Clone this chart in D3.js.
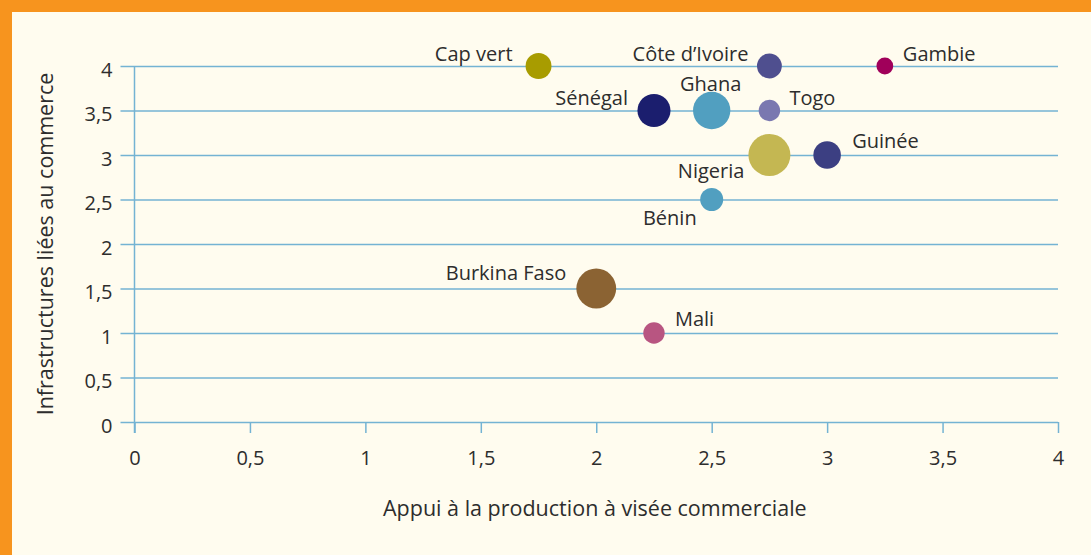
<!DOCTYPE html>
<html>
<head>
<meta charset="utf-8">
<script src="https://cdn.jsdelivr.net/npm/d3@7"></script>
<style>
  html, body { margin: 0; padding: 0; background: #f7941e; }
  svg { display: block; }
  text { font-family: "Open Sans", "Noto Sans", sans-serif; fill: #2d2d2d; }
</style>
</head>
<body>
<script>
// data
const countries = ["Cap vert", "Côte d’Ivoire", "Gambie", "Sénégal", "Ghana", "Togo",
  "Guinée", "Nigeria", "Bénin", "Burkina Faso", "Mali"];
const appui = [1.75, 2.75, 3.25, 2.25, 2.5, 2.75, 3, 2.75, 2.5, 2, 2.25];
const infra = [4, 4, 4, 3.5, 3.5, 3.5, 3, 3, 2.5, 1.5, 1];
const taille = [38, 35, 16, 62, 79, 26, 43, 100, 30, 90, 26];
const bubbleColors = ["#a89c00", "#4f4f8f", "#a0005a", "#1b1e6e", "#519fc0", "#7a78b0",
  "#3c3f82", "#c4b752", "#519fc0", "#8b6333", "#b85581"];
const xTicks = [0, 0.5, 1, 1.5, 2, 2.5, 3, 3.5, 4];
const yTicks = [0, 0.5, 1, 1.5, 2, 2.5, 3, 3.5, 4];

// where each label sits relative to its bubble
const labelPos = {
  "Cap vert": { dx: -26, dy: -5, anchor: "end" },
  "Côte d’Ivoire": { dx: -21, dy: -5, anchor: "end" },
  "Gambie": { dx: 18, dy: -5, anchor: "start" },
  "Sénégal": { dx: -26, dy: -6, anchor: "end" },
  "Ghana": { dx: -1, dy: -20, anchor: "middle" },
  "Togo": { dx: 20, dy: -6, anchor: "start" },
  "Guinée": { dx: 25, dy: -7, anchor: "start" },
  "Nigeria": { dx: -25, dy: 23, anchor: "end" },
  "Bénin": { dx: -15, dy: 25, anchor: "end" },
  "Burkina Faso": { dx: -30, dy: -9, anchor: "end" },
  "Mali": { dx: 21, dy: -7, anchor: "start" }
};

const W = 1091, H = 555;
const gridColor = "#74b3d3";
const fmt = d => String(d).replace(".", ",");

const svg = d3.select("body").append("svg")
  .attr("width", W)
  .attr("height", H);

// orange frame on top and left, cream panel
svg.append("rect").attr("width", W).attr("height", H).attr("fill", "#f7941e");
svg.append("rect").attr("x", 12).attr("y", 12)
  .attr("width", W - 12).attr("height", H - 12).attr("fill", "#fffcef");

const x = d3.scaleLinear().domain([0, 4]).range([134.5, 1058]);
const y = d3.scaleLinear().domain([0, 4]).range([422, 66]);
const r = d3.scaleSqrt().domain([0, 100]).range([0, 21]);

// horizontal gridlines with left ticks
const yAxis = svg.append("g")
  .attr("transform", `translate(${x(0)},0)`)
  .call(d3.axisLeft(y).tickValues(yTicks).tickFormat(fmt)
    .tickSize(-(x(4) - x(0))).tickPadding(8));
yAxis.select(".domain").remove();
yAxis.selectAll(".tick line")
  .attr("x1", -14)
  .attr("stroke", gridColor).attr("stroke-width", 1.5);
yAxis.selectAll(".tick text")
  .attr("x", -22)
  .attr("dy", "0.5em")
  .style("font-size", "20px");

// bottom ticks
const xAxis = svg.append("g")
  .attr("transform", `translate(0,${y(0)})`)
  .call(d3.axisBottom(x).tickValues(xTicks).tickFormat(fmt)
    .tickSize(11).tickPadding(18));
xAxis.select(".domain").remove();
xAxis.selectAll(".tick line").attr("stroke", gridColor).attr("stroke-width", 1.5);
xAxis.selectAll(".tick text").style("font-size", "20px");

// vertical axis line
svg.append("line")
  .attr("x1", x(0)).attr("x2", x(0))
  .attr("y1", y(4)).attr("y2", y(0) + 11)
  .attr("stroke", gridColor).attr("stroke-width", 1.5);

// bubbles
const pts = countries.map((c, i) => ({ c, ax: appui[i], iy: infra[i], s: taille[i], col: bubbleColors[i] }));

svg.append("g").selectAll("circle")
  .data(pts)
  .enter()
  .append("circle")
  .attr("cx", d => x(d.ax))
  .attr("cy", d => y(d.iy))
  .attr("r", d => r(d.s))
  .attr("fill", d => d.col);

svg.append("g").selectAll("text")
  .data(pts)
  .enter()
  .append("text")
  .attr("x", d => x(d.ax) + labelPos[d.c].dx)
  .attr("y", d => y(d.iy) + labelPos[d.c].dy)
  .attr("text-anchor", d => labelPos[d.c].anchor)
  .style("font-size", "20px")
  .text(d => d.c);

// axis titles
svg.append("text")
  .attr("x", 383)
  .attr("y", 516)
  .style("font-size", "21.5px")
  .text("Appui à la production à visée commerciale");

svg.append("text")
  .attr("transform", `translate(53,${(y(0) + y(4)) / 2}) rotate(-90)`)
  .attr("text-anchor", "middle")
  .style("font-size", "21.5px")
  .text("Infrastructures liées au commerce");
</script>
</body>
</html>
